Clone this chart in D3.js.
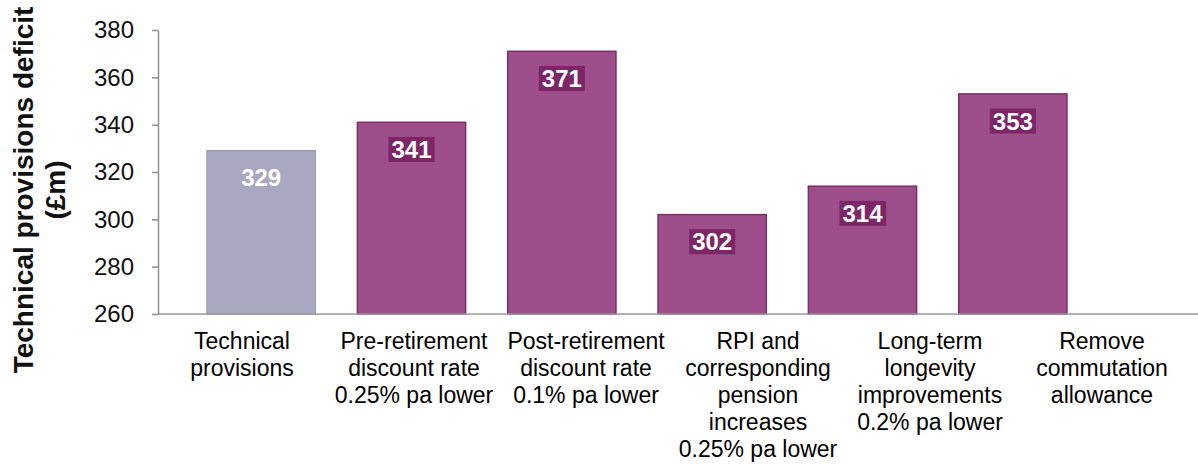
<!DOCTYPE html>
<html>
<head>
<meta charset="utf-8">
<script src="https://cdn.jsdelivr.net/npm/d3@7"></script>
<style>
  html, body { margin: 0; padding: 0; background: #fff; }
  svg { display: block; font-family: "Liberation Sans", Arial, sans-serif; }
</style>
</head>
<body>
<svg id="chart" width="1198" height="465"></svg>
<script>
// Scenario names (one entry per bar, "\n" marks a line break)
const categories = [
  "Technical\nprovisions",
  "Pre-retirement\ndiscount rate\n0.25% pa lower",
  "Post-retirement\ndiscount rate\n0.1% pa lower",
  "RPI and\ncorresponding\npension\nincreases\n0.25% pa lower",
  "Long-term\nlongevity\nimprovements\n0.2% pa lower",
  "Remove\ncommutation\nallowance"
];
// Technical provisions deficit under each scenario (£m)
const deficits = [329, 341, 371, 302, 314, 353];
// Y axis tick labels
const yTicks = [260, 280, 300, 320, 340, 360, 380];
const yTitle = ["Technical provisions deficit", "(£m)"];

const svg = d3.select("#chart");

const axisX = 158, plotTop = 30, plotBottom = 314;

const y = d3.scaleLinear()
  .domain([d3.min(yTicks), d3.max(yTicks)])
  .range([plotBottom, plotTop]);

// Bars sit on one band scale, their labels on a slightly wider one
const xBars = d3.scaleBand()
  .domain(d3.range(categories.length))
  .range([186, 1088])
  .paddingInner(0.28)
  .paddingOuter(0.14);

const xLabels = d3.scaleBand()
  .domain(d3.range(categories.length))
  .range([156, 1188]);

const baseFill = "#a9a7c1";
const scenFill = "#9e4e8b";
const scenEdge = "#7f2d6d";
const tagFill = "#7c2567";

// Bars
svg.append("g")
  .selectAll("rect")
  .data(deficits)
  .join("rect")
  .attr("x", (d, i) => xBars(i))
  .attr("width", xBars.bandwidth())
  .attr("y", d => y(d))
  .attr("height", d => y(d3.min(yTicks)) - y(d))
  .attr("fill", (d, i) => i === 0 ? baseFill : scenFill)
  .attr("stroke", (d, i) => i === 0 ? "#9d9bb6" : scenEdge)
  .attr("stroke-width", 1.5);

// Value labels inside the bars
const vals = svg.append("g")
  .selectAll("g")
  .data(deficits)
  .join("g")
  .attr("transform", (d, i) => `translate(${xBars(i) + xBars.bandwidth() / 2},${y(d) + 27})`);

vals.each(function(d, i) {
  const g = d3.select(this);
  const t = g.append("text")
    .attr("text-anchor", "middle")
    .attr("dy", "0.36em")
    .attr("font-size", 24)
    .attr("font-weight", "bold")
    .attr("fill", "#fff")
    .text(d);
  if (i > 0) {
    const bb = t.node().getBBox();
    g.insert("rect", "text")
      .attr("x", bb.x - 3)
      .attr("y", bb.y + 1)
      .attr("width", bb.width + 6)
      .attr("height", bb.height - 2)
      .attr("fill", tagFill);
  }
});

// Baseline along the bottom of the plot
svg.append("line")
  .attr("x1", axisX).attr("x2", 1198)
  .attr("y1", plotBottom).attr("y2", plotBottom)
  .attr("stroke", "#9a9a9a")
  .attr("stroke-width", 1.5);

// Y axis
const yAxis = svg.append("g")
  .attr("transform", `translate(${axisX},0)`)
  .call(d3.axisLeft(y).tickValues(yTicks).tickSize(6).tickSizeOuter(0).tickPadding(18));
yAxis.select(".domain").attr("stroke", "#8f8f8f").attr("stroke-width", 1.5);
yAxis.selectAll(".tick line").attr("stroke", "#8f8f8f").attr("stroke-width", 1.5);
yAxis.selectAll(".tick text")
  .attr("font-size", 24)
  .attr("font-family", "Liberation Sans, Arial, sans-serif")
  .attr("fill", "#111");

// Y axis title (two lines, rotated)
const titleY = (plotTop + plotBottom) / 2 + 18;
svg.append("text")
  .attr("transform", `translate(33,${titleY}) rotate(-90)`)
  .attr("text-anchor", "middle")
  .attr("font-size", 28)
  .attr("font-weight", "bold")
  .attr("fill", "#111")
  .selectAll("tspan")
  .data(yTitle)
  .join("tspan")
  .attr("x", 0)
  .attr("dy", (d, i) => i === 0 ? 0 : 32)
  .text(d => d);

// Category labels
const lineH = 27;
svg.append("g")
  .selectAll("text")
  .data(categories)
  .join("text")
  .attr("text-anchor", "middle")
  .attr("font-size", 23)
  .attr("fill", "#000")
  .attr("transform", (d, i) => `translate(${xLabels(i) + xLabels.bandwidth() / 2},349)`)
  .each(function(d) {
    d3.select(this).selectAll("tspan")
      .data(d.split("\n"))
      .join("tspan")
      .attr("x", 0)
      .attr("dy", (l, j) => j === 0 ? 0 : lineH)
      .text(l => l);
  });
</script>
</body>
</html>
